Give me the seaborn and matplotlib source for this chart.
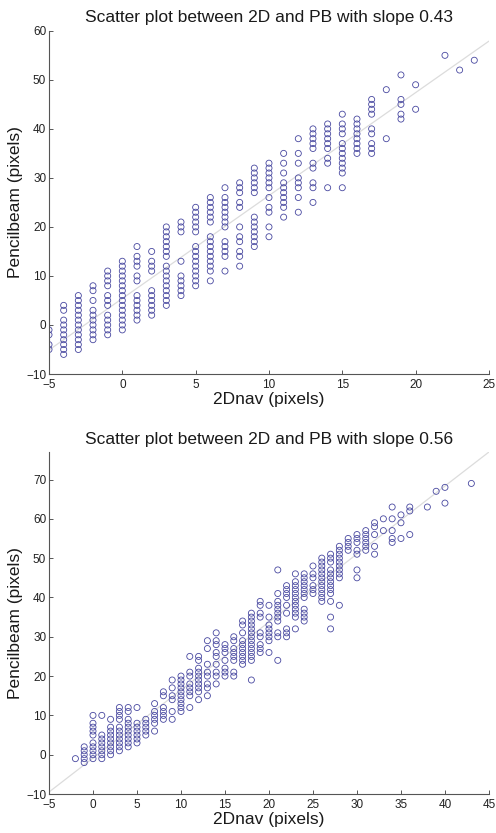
import matplotlib
matplotlib.use("Agg")
import matplotlib.pyplot as plt
import seaborn as sns
import numpy as np
import pandas as pd

sns.set_theme(style="white")
plt.rcParams['font.family'] = ['Liberation Sans', 'DejaVu Sans']

# ---- Top plot data (2Dnav column -> Pencilbeam values) ----
top_x_cols = [-5, -4, -3, -2, -1, 0, 1, 2, 3, 4, 5, 6, 7, 8, 9, 10, 11, 12, 13,
              14, 15, 16, 17, 18, 19, 20, 22, 23, 24]
top_y_cols = [
    [-1, -2, -4, -5],
    [4, 3, 1, 0, -1, -2, -3, -4, -5, -6],
    [6, 5, 4, 3, 2, 1, 0, -1, -2, -3, -4, -5],
    [8, 7, 5, 3, 2, 1, 0, -1, -2, -3],
    [11, 10, 9, 8, 6, 5, 4, 2, 1, 0, -1, -2],
    [13, 12, 11, 10, 9, 8, 7, 6, 5, 4, 3, 2, 1, 0, -1],
    [16, 14, 13, 12, 10, 9, 6, 5, 4, 3, 2, 1],
    [15, 13, 12, 11, 7, 6, 5, 4, 3, 2],
    [20, 19, 18, 17, 16, 15, 14, 12, 11, 10, 9, 8, 7, 6, 5, 4],
    [21, 20, 19, 13, 10, 9, 8, 7, 6],
    [24, 23, 22, 21, 20, 19, 16, 15, 14, 13, 12, 11, 10, 9, 8],
    [26, 25, 24, 23, 22, 21, 18, 17, 16, 15, 14, 13, 12, 11, 9],
    [28, 26, 25, 24, 23, 22, 21, 20, 17, 16, 15, 14, 11],
    [29, 28, 27, 25, 24, 20, 18, 17, 15, 14, 12],
    [32, 31, 30, 29, 28, 27, 22, 21, 20, 19, 18, 17, 16],
    [33, 32, 31, 30, 29, 28, 26, 24, 23, 20, 18],
    [35, 33, 31, 29, 28, 27, 26, 25, 24, 22],
    [38, 35, 33, 30, 29, 28, 26, 23],
    [40, 39, 38, 37, 36, 33, 32, 29, 28, 25],
    [41, 40, 39, 38, 37, 36, 34, 33, 28],
    [43, 41, 40, 39, 37, 36, 35, 34, 33, 32, 31, 28],
    [42, 41, 40, 39, 38, 37, 36, 35],
    [46, 45, 44, 43, 40, 39, 37, 36, 35],
    [48, 38],
    [51, 46, 45, 43, 42],
    [49, 44],
    [55],
    [52],
    [54],
]
top_fit = (5.4, 2.1)  # intercept, slope of the grey reference line

# ---- Bottom plot data ----
bot_x_cols = [-2, -1, 0, 1, 2, 3, 4, 5, 6, 7, 8, 9, 10, 11, 12, 13, 14, 15, 16,
              17, 18, 19, 20, 21, 22, 23, 24, 25, 26, 27, 28, 29, 30, 31, 32,
              33, 34, 35, 36, 38, 39, 40, 43]
bot_y_cols = [
    [-1],
    [2, 1, 0, -1, -2],
    [10, 8, 7, 6, 5, 3, 2, 1, 0, -1],
    [10, 5, 4, 3, 2, 1, 0, -1],
    [9, 7, 6, 5, 4, 3, 2, 1, 0],
    [12, 11, 10, 9, 7, 6, 5, 4, 3, 2, 1],
    [12, 11, 9, 8, 7, 6, 5, 4, 3, 2],
    [12, 8, 7, 6, 5, 4, 3],
    [9, 8, 7, 6, 5],
    [13, 11, 10, 9, 8, 6],
    [16, 15, 12, 11, 10, 9],
    [19, 17, 15, 14, 11, 9],
    [20, 19, 18, 17, 16, 15, 14, 13, 12, 11],
    [25, 21, 20, 18, 17, 16, 15, 12],
    [25, 24, 22, 21, 20, 19, 18, 17, 16, 14],
    [29, 27, 23, 21, 20, 18, 17, 15],
    [31, 29, 28, 26, 25, 23, 21, 20, 18],
    [28, 27, 26, 24, 22, 21, 20],
    [30, 29, 27, 26, 25, 24, 21, 20],
    [34, 33, 31, 29, 28, 27, 26, 25, 24, 23],
    [36, 35, 34, 33, 32, 31, 30, 29, 28, 27, 26, 25, 24, 19],
    [39, 38, 36, 35, 31, 30, 28, 27, 26],
    [38, 35, 33, 32, 31, 30, 29, 26],
    [47, 41, 39, 38, 37, 36, 35, 34, 31, 30, 24],
    [43, 42, 41, 40, 38, 36, 32, 31, 30],
    [46, 44, 43, 42, 41, 40, 39, 38, 37, 36, 35, 32],
    [46, 45, 44, 43, 42, 41, 40, 37, 36, 35, 34],
    [48, 46, 45, 43, 42, 41],
    [50, 49, 48, 47, 46, 45, 44, 43, 42, 41, 40, 39],
    [51, 50, 49, 47, 46, 45, 44, 43, 42, 41, 39, 35, 32],
    [53, 52, 51, 50, 49, 48, 47, 46, 45, 38],
    [55, 54, 53, 52],
    [56, 55, 54, 52, 51, 47, 45],
    [57, 56, 55, 54, 53, 52],
    [59, 58, 56, 53, 51],
    [60, 57],
    [63, 60, 57, 55, 54],
    [61, 59, 55],
    [63, 62, 56],
    [63],
    [67],
    [68, 64],
    [69],
]
bot_fit = (-0.85, 1.73)

titles = ["Scatter plot between 2D and PB with slope 0.43",
          "Scatter plot between 2D and PB with slope 0.56"]
xlabel = "2Dnav (pixels)"
ylabel = "Pencilbeam (pixels)"


def expand(xc, yc):
    xs, ys = [], []
    for x, col in zip(xc, yc):
        for y in col:
            xs.append(x)
            ys.append(y)
    return pd.DataFrame({"x": xs, "y": ys})


fig = plt.figure(figsize=(4.96, 8.33), dpi=100)
ax1 = fig.add_axes([0.0988, 0.551, 0.887, 0.412])
ax2 = fig.add_axes([0.0988, 0.0468, 0.887, 0.4106])

marker_color = "#4848a0"
specs = [
    (ax1, expand(top_x_cols, top_y_cols), top_fit, (-5, 25), (-10, 60),
     np.arange(-5, 26, 5), np.arange(-10, 61, 10), titles[0]),
    (ax2, expand(bot_x_cols, bot_y_cols), bot_fit, (-5, 45), (-10, 77),
     np.arange(-5, 46, 5), np.arange(-10, 71, 10), titles[1]),
]

for ax, df, fit, xl, yl, xt, yt, title in specs:
    lx = np.array(xl, dtype=float)
    line_df = pd.DataFrame({"x": lx, "y": fit[0] + fit[1] * lx})
    sns.lineplot(data=line_df, x="x", y="y", ax=ax, color="#dcdcdc",
                 linewidth=0.9, zorder=1)
    sns.scatterplot(data=df, x="x", y="y", ax=ax, marker="o", s=19,
                    facecolors="none", edgecolor=marker_color,
                    linewidth=0.6, zorder=2)
    ax.set_xlim(*xl)
    ax.set_ylim(*yl)
    ax.set_xticks(xt)
    ax.set_yticks(yt)
    ax.set_title(title, fontsize=12.5, color="#1a1a1a", pad=6)
    ax.set_xlabel(xlabel, fontsize=12.5, color="#1a1a1a", labelpad=1)
    ax.set_ylabel(ylabel, fontsize=12.5, color="#1a1a1a", labelpad=2)
    for s in ["top", "right"]:
        ax.spines[s].set_visible(False)
    for s in ["left", "bottom"]:
        ax.spines[s].set_color("#555555")
        ax.spines[s].set_linewidth(0.8)
    ax.tick_params(direction="in", length=3, width=0.7, colors="#555555",
                   labelsize=8.5, labelcolor="#222222",
                   bottom=True, left=True)
    ax.tick_params(axis="x", pad=3.5)
    ax.tick_params(axis="y", pad=2)
    ax.set_facecolor("white")

fig.savefig("out.png", dpi=100, facecolor="white")
